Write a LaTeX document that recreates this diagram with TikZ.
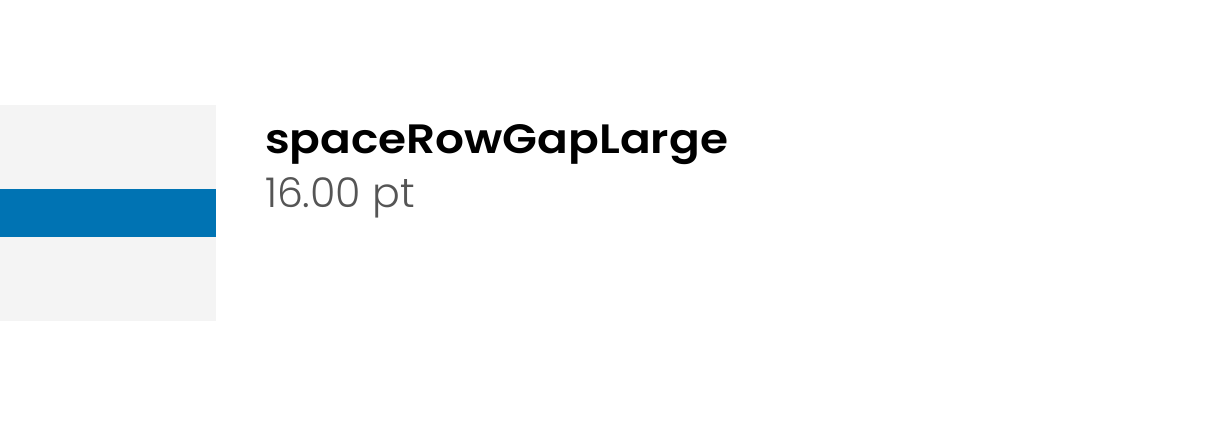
\documentclass[tikz,border=0pt]{standalone}
\usepackage{fontspec}
\setmainfont{Poppins}
\newfontfamily\namefont{Poppins}[UprightFont=* SemiBold]
\newfontfamily\valfont{Poppins}[UprightFont=* Light]
\definecolor{swatchgray}{HTML}{F4F4F4}
\definecolor{swatchblue}{HTML}{0073B3}
\definecolor{valgray}{HTML}{555555}
\begin{document}
\begin{tikzpicture}[x=1bp,y=-1bp,
  lbl/.style={anchor=base west,inner sep=0pt,outer sep=0pt}]
\useasboundingbox (0,0) rectangle (1206,426);
\fill[swatchgray] (0,105) rectangle (216,321);
\fill[swatchblue] (0,189) rectangle (216,237);
\node[lbl,font={\namefont\fontsize{41bp}{47bp}\selectfont}] (name) at (265,153) {\resizebox{463bp}{\height}{spaceRowGapLarge}};
\node[lbl,font={\valfont\fontsize{41bp}{47bp}\selectfont},text=valgray] (val) at (265,207) {\resizebox{150bp}{\height}{16.00 pt}};
\end{tikzpicture}
\end{document}
